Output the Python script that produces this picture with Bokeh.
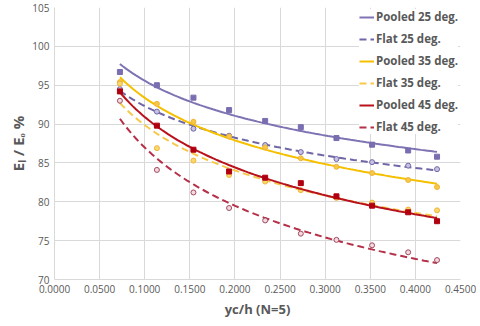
import numpy as np
from bokeh.plotting import figure
from bokeh.models import Legend, LegendItem, Range1d, NumeralTickFormatter, FixedTicker
from bokeh.embed import file_html
from bokeh.resources import INLINE

# data
yc_h = [0.0725, 0.1135, 0.1540, 0.1935, 0.2335, 0.2730, 0.3125, 0.3520, 0.3920, 0.4240]
pooled_25 = [96.7, 95.0, 93.4, 91.8, 90.4, 89.6, 88.2, 87.35, 86.6, 85.8]
flat_25 = [94.5, 91.6, 89.4, 88.5, 87.3, 86.4, 85.5, 85.1, 84.65, 84.2]
pooled_35 = [95.4, 92.6, 90.3, 88.4, 87.0, 85.6, 84.5, 83.7, 82.8, 81.9]
flat_35 = [95.2, 86.9, 85.3, 83.45, 82.6, 81.5, 80.5, 79.9, 79.0, 78.9]
pooled_45 = [94.2, 89.8, 86.7, 83.9, 83.1, 82.4, 80.7, 79.5, 78.65, 77.5]
flat_45 = [93.0, 84.1, 81.2, 79.2, 77.6, 75.9, 75.1, 74.4, 73.5, 72.5]

labels = ["Pooled 25 deg.", "Flat 25 deg.", "Pooled 35 deg.", "Flat 35 deg.",
          "Pooled 45 deg.", "Flat 45 deg."]
x_ticks = [0.0, 0.05, 0.10, 0.15, 0.20, 0.25, 0.30, 0.35, 0.40, 0.45]
y_ticks = [70, 75, 80, 85, 90, 95, 100, 105]

FONT = "Open Sans"
TXT = "#595959"

p = figure(frame_width=406, frame_height=272, output_backend="svg", toolbar_location=None,
           x_range=Range1d(0, 0.45), y_range=Range1d(70, 105),
           min_border_left=54, min_border_right=18, min_border_top=7, min_border_bottom=0)
p.outline_line_color = None
p.background_fill_color = "white"
p.border_fill_color = "white"

for ax in (p.xaxis, p.yaxis):
    ax.axis_line_color = "#d9d9d9"
    ax.major_tick_line_color = None
    ax.minor_tick_line_color = None
    ax.major_tick_out = 0
    ax.major_tick_in = 0
    ax.major_label_text_font = FONT
    ax.major_label_text_font_size = "10px"
    ax.major_label_text_color = TXT
    ax.axis_label_text_font = FONT
    ax.axis_label_text_font_style = "bold"
    ax.axis_label_text_color = TXT
    ax.axis_label_text_font_size = "13px"
    ax.axis_label_standoff = 4
    ax.major_label_standoff = 5

p.xaxis.ticker = FixedTicker(ticks=x_ticks)
p.yaxis.ticker = FixedTicker(ticks=y_ticks)
p.xaxis.formatter = NumeralTickFormatter(format="0.0000")
p.xaxis.axis_label = "yc/h (N=5)"
p.yaxis.axis_label = "Eₗ / Eₒ %"
p.yaxis.axis_label_text_font_size = "15px"
p.yaxis.axis_label_standoff = 1
p.xgrid.grid_line_color = "#d9d9d9"
p.ygrid.grid_line_color = "#d9d9d9"

x = np.array(yc_h)
xf = np.linspace(min(yc_h), max(yc_h), 100)

series = [
    (pooled_25, "#8073b4", "solid", "square", "#7a6db0", "#7a6db0"),
    (flat_25, "#6f66a6", "7 4", "circle", "#6f66a6", "#c9c3e3"),
    (pooled_35, "#f5c000", "solid", "circle", "#f0b43c", "#f7c844"),
    (flat_35, "#f7c94a", "7 4", "circle", "#f0b43c", "#fbd86a"),
    (pooled_45, "#b8121c", "solid", "square", "#b00010", "#b00010"),
    (flat_45, "#b53048", "7 4", "circle", "#a04a60", "#f3d8de"),
]

items = []
for (vals, col, dash, marker, mline, mfill), lab in zip(series, labels):
    y = np.array(vals)
    b, a = np.polyfit(np.log(x), np.log(y), 1)
    yf = np.exp(a) * xf ** b
    r = p.line(xf, yf, line_color=col, line_width=2, line_dash=dash)
    p.scatter(yc_h, vals, marker=marker, size=5, line_color=mline, fill_color=mfill, line_width=1)
    items.append(LegendItem(label=lab, renderers=[r]))

legend = Legend(items=items, location="top_right")
legend.label_text_font = FONT
legend.label_text_font_size = "11.5px"
legend.label_text_font_style = "bold"
legend.label_text_color = TXT
legend.border_line_color = None
legend.background_fill_color = "white"
legend.background_fill_alpha = 1.0
legend.glyph_width = 15
legend.glyph_height = 12
legend.label_standoff = 2
legend.spacing = 7
legend.padding = 2
legend.margin = 2
p.add_layout(legend)

open("out.html", "w").write(file_html(p, INLINE))
